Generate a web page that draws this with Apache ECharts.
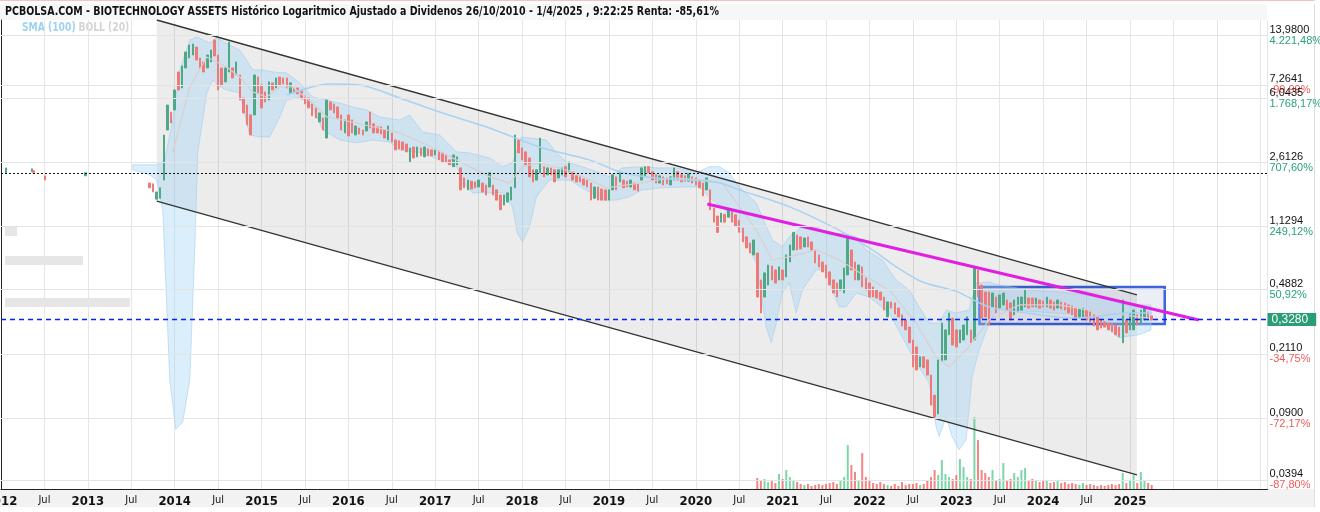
<!DOCTYPE html>
<html>
<head>
<meta charset="utf-8" />
<title>PCBOLSA - BIOTECHNOLOGY ASSETS</title>
<script src="https://cdn.jsdelivr.net/npm/echarts@6/dist/echarts.min.js"></script>
<style>
  html, body { margin: 0; padding: 0; background: #fff; }
  #main { width: 1320px; height: 512px; }
</style>
</head>
<body>
<div id="main"></div>
<script>
// x values are months counted from January 2012
var narrow = "'Liberation Sans Narrow', 'Arial Narrow', 'DejaVu Sans Condensed', sans-serif";

// a few isolated quotes in 2012
var earlyMonths = [0.7, 4.3, 4.5, 6.1, 11.7];
var earlyOpen = [2.28, 2.31, 2.34, 2.19, 2.19];
var earlyClose = [2.43, 2.40, 2.28, 2.07, 2.28];

// regular candles, one every half month starting at month 20.5 (mid Sep 2013)
var firstMonth = 20.5;
var opens = [
  1.99, 1.97, 1.61, 1.63, 2.07, 4.00, 5.07, 5.21, 8.59, 6.96,
  9.06, 10.33, 10.74, 11.93, 10.33, 9.80, 9.06, 9.80, 13.09, 10.74,
  9.06, 7.54, 8.59, 9.06, 8.26, 8.26, 6.10, 5.56, 4.88, 4.88,
  8.04, 7.24, 6.61, 5.94, 7.44, 6.96, 8.04, 7.94, 7.94, 6.52,
  6.96, 6.96, 6.69, 6.27, 6.10, 5.64, 5.35, 4.45, 4.69, 3.60,
  5.79, 5.64, 5.42, 4.88, 3.85, 4.88, 4.57, 3.75, 4.11, 4.00,
  3.95, 5.07, 4.34, 4.17, 4.17, 4.00, 3.51, 3.85, 3.51, 3.47,
  3.42, 3.33, 2.63, 3.20, 2.81, 3.16, 2.81, 3.12, 3.08, 2.88,
  3.04, 2.96, 2.88, 2.70, 2.47, 2.53, 2.43, 2.13, 1.82, 2.04,
  2.02, 1.89, 1.99, 1.94, 1.89, 1.94, 1.82, 1.70, 1.49, 1.55,
  1.59, 1.87, 3.51, 3.16, 3.00, 2.77, 2.37, 2.07, 2.28, 2.47,
  2.22, 2.43, 2.37, 2.13, 2.22, 2.47, 2.31, 2.31, 2.19, 2.16,
  2.10, 2.07, 1.99, 1.63, 1.89, 1.84, 1.82, 1.59, 1.82, 2.16,
  2.02, 2.07, 2.04, 1.89, 1.99, 1.97, 2.07, 2.16, 2.47, 2.31,
  2.22, 1.99, 2.16, 2.13, 1.94, 2.07, 2.31, 2.22, 2.19, 2.04,
  2.16, 2.13, 2.07, 1.99, 1.82, 1.82, 1.43, 1.29, 1.19, 1.32,
  1.27, 1.40, 1.31, 1.22, 1.10, 0.98, 0.904, 0.773, 0.793, 0.556,
  0.444, 0.520, 0.668, 0.634, 0.556, 0.634, 0.579, 0.704, 0.825, 1.005,
  0.98, 0.858, 0.98, 0.917, 0.825, 0.773, 0.704, 0.677, 0.618, 0.556,
  0.534, 0.487, 0.468, 0.594, 0.825, 0.704, 0.556, 0.660, 0.571, 0.534,
  0.507, 0.487, 0.474, 0.444, 0.342, 0.416, 0.411, 0.384, 0.351, 0.328,
  0.299, 0.252, 0.230, 0.177, 0.202, 0.194, 0.159, 0.122, 0.0953, 0.190,
  0.194, 0.270, 0.336, 0.288, 0.243, 0.252, 0.270, 0.288, 0.252, 0.634,
  0.520, 0.474, 0.474, 0.390, 0.444, 0.384, 0.400, 0.427, 0.411, 0.351,
  0.365, 0.374, 0.390, 0.438, 0.438, 0.390, 0.427, 0.422, 0.390, 0.427,
  0.416, 0.384, 0.416, 0.411, 0.400, 0.395, 0.384, 0.336, 0.342, 0.374,
  0.365, 0.351, 0.342, 0.328, 0.320, 0.315, 0.315, 0.307, 0.299, 0.243,
  0.328, 0.288, 0.288, 0.351, 0.315, 0.328, 0.365, 0.346
];
var closes = [
  1.87, 1.77, 1.77, 1.87, 3.75, 5.56, 4.39, 6.78, 6.78, 9.30,
  11.17, 12.25, 12.41, 10.06, 9.06, 8.59, 10.74, 11.47, 10.60, 6.78,
  7.24, 9.06, 12.74, 7.94, 9.80, 5.94, 5.01, 4.28, 3.75, 8.26,
  6.52, 5.35, 5.79, 7.54, 6.78, 7.94, 7.24, 7.34, 6.96, 7.44,
  6.52, 6.44, 6.02, 5.64, 5.35, 4.82, 4.69, 5.01, 4.00, 5.94,
  5.21, 5.01, 4.69, 4.00, 4.57, 3.70, 3.85, 4.22, 3.80, 3.75,
  4.45, 4.11, 3.85, 3.85, 3.80, 3.60, 4.22, 3.42, 3.08, 3.12,
  3.08, 3.00, 3.16, 2.77, 3.20, 2.85, 3.20, 2.85, 2.85, 3.08,
  2.70, 2.63, 2.60, 2.53, 2.88, 2.81, 1.82, 1.87, 2.07, 1.84,
  1.87, 2.07, 1.77, 1.70, 2.28, 1.70, 1.59, 1.40, 1.70, 1.75,
  1.89, 3.75, 2.96, 2.70, 2.53, 2.16, 2.02, 2.37, 3.60, 2.16,
  2.43, 2.22, 2.02, 2.37, 2.43, 2.16, 2.63, 2.07, 2.02, 2.02,
  1.94, 1.89, 1.59, 1.89, 1.59, 1.59, 1.59, 1.82, 2.22, 1.82,
  2.31, 1.87, 1.89, 2.07, 1.82, 1.79, 2.43, 2.47, 2.28, 2.07,
  1.99, 2.19, 1.94, 1.97, 2.16, 2.43, 2.07, 2.02, 2.04, 2.25,
  1.99, 1.94, 1.87, 1.68, 2.13, 1.40, 1.19, 1.04, 1.34, 1.19,
  1.40, 1.19, 1.13, 1.04, 0.917, 0.847, 0.793, 0.941, 0.444, 0.360,
  0.610, 0.677, 0.556, 0.534, 0.660, 0.556, 0.773, 0.881, 1.04, 0.825,
  0.836, 0.966, 0.858, 0.825, 0.695, 0.660, 0.618, 0.571, 0.520, 0.468,
  0.444, 0.556, 0.651, 0.98, 0.634, 0.556, 0.677, 0.507, 0.487, 0.444,
  0.444, 0.438, 0.427, 0.374, 0.416, 0.384, 0.355, 0.342, 0.303, 0.288,
  0.243, 0.177, 0.170, 0.202, 0.175, 0.159, 0.107, 0.0916, 0.194, 0.315,
  0.288, 0.360, 0.236, 0.230, 0.288, 0.307, 0.342, 0.243, 0.660, 0.444,
  0.336, 0.342, 0.307, 0.468, 0.360, 0.456, 0.468, 0.374, 0.328, 0.427,
  0.444, 0.444, 0.487, 0.384, 0.390, 0.438, 0.384, 0.390, 0.444, 0.384,
  0.374, 0.427, 0.379, 0.374, 0.360, 0.351, 0.328, 0.379, 0.384, 0.328,
  0.320, 0.303, 0.288, 0.295, 0.299, 0.288, 0.281, 0.270, 0.263, 0.427,
  0.277, 0.360, 0.374, 0.307, 0.374, 0.384, 0.328, 0.328
];

// volume (thousands), starting at candle 168
var volStart = 168;
var volumes = [
  11, 8, 10, 7, 9, 6, 15, 10, 19, 12, 9, 7, 5, 4, 5, 3, 4, 5, 4, 5,
  6, 7, 5, 8, 12, 44, 24, 17, 8, 36, 12, 8, 6, 5, 7, 5, 4, 3, 5, 3,
  7, 4, 5, 5, 6, 4, 5, 8, 12, 19, 14, 29, 15, 12, 10, 14, 30, 22, 12, 10,
  72, 49, 19, 16, 12, 19, 8, 10, 26, 8, 10, 16, 12, 19, 21, 8, 10, 9, 7, 9,
  8, 6, 7, 8, 6, 7, 5, 6, 5, 4, 6, 4, 5, 4, 3, 4, 3, 4, 5, 4,
  5, 16, 6, 8, 14, 6, 17, 9, 6, 4
];

// SMA(100)
var smaMonths = [39.5, 45.4, 49.6, 55.1, 60.6, 67.5, 74.4, 81.3, 85.9, 90.6, 95.1, 99.3, 102.0,
  108.9, 115.8, 120.4, 123.7, 127.3, 132.0, 136.5, 141.6, 148.5, 151.7, 155.4, 159.0];
var smaValues = [6.35, 7.34, 7.24, 6.10, 5.07, 4.11, 3.20, 2.70, 2.28, 2.13, 2.07, 1.99, 1.82,
  1.46, 1.07, 0.825, 0.660, 0.541, 0.478, 0.390, 0.360, 0.336, 0.346, 0.360, 0.360];

// Bollinger (20) bands
var bollUpper = [[18.21, 2.53], [21.52, 2.53], [22.63, 2.70], [23.73, 4.57], [24.70, 8.82], [26.08, 13.09],
  [27.05, 13.62], [28.84, 12.57], [29.81, 13.45], [31.60, 12.25], [32.98, 11.47], [33.95, 10.06],
  [34.78, 8.82], [36.16, 8.82], [37.54, 8.59], [39.47, 8.48], [41.27, 7.44], [43.06, 6.18],
  [44.99, 5.94], [46.79, 5.71], [48.58, 5.42], [50.52, 5.21], [52.31, 4.75], [55.07, 4.57],
  [56.46, 4.88], [58.25, 3.90], [60.60, 3.75], [62.94, 3.00], [64.74, 2.96], [67.50, 2.77],
  [69.29, 2.47], [70.67, 2.60], [71.92, 3.65], [73.02, 3.60], [75.37, 3.51], [76.75, 2.96],
  [78.13, 2.63], [80.34, 2.47], [82.69, 2.28], [84.07, 2.16], [85.86, 2.43], [88.62, 2.47],
  [90.56, 2.43], [93.32, 2.43], [96.08, 2.28], [97.87, 2.47], [99.25, 2.47], [100.63, 2.28],
  [102.01, 1.89], [104.36, 1.53], [106.57, 0.941], [107.95, 0.858], [108.92, 0.98], [110.71, 1.12],
  [112.65, 1.12], [114.44, 1.005], [116.24, 1.03], [118.17, 0.98], [119.55, 0.825], [121.76, 0.723],
  [123.70, 0.556], [125.49, 0.487], [126.87, 0.390], [128.25, 0.315], [129.63, 0.315], [130.60, 0.374],
  [131.98, 0.360], [133.77, 0.374], [134.74, 0.534], [136.53, 0.541], [137.91, 0.520], [142.06, 0.487],
  [146.20, 0.474], [150.34, 0.456], [153.10, 0.427], [155.86, 0.400], [158.90, 0.400]];
var bollLower = [[18.21, 2.37], [20.56, 2.22], [21.52, 2.07], [22.35, 1.40], [23.32, 0.149], [24.15, 0.0779],
  [25.11, 0.0857], [26.08, 0.149], [26.77, 0.825], [27.18, 2.96], [27.87, 4.57], [28.42, 6.52],
  [29.26, 7.73], [30.22, 7.05], [31.19, 6.78], [32.98, 6.52], [33.95, 4.39], [34.36, 3.75],
  [35.74, 3.65], [37.12, 3.65], [38.51, 4.75], [39.47, 5.94], [41.27, 6.18], [43.06, 5.42],
  [44.44, 4.00], [46.79, 3.51], [49.14, 3.38], [51.35, 3.51], [53.69, 3.42], [55.07, 3.08],
  [58.25, 2.96], [62.94, 2.47], [64.32, 1.89], [65.15, 1.75], [69.29, 1.75], [70.67, 1.45],
  [71.36, 1.03], [72.06, 0.917], [73.02, 1.12], [73.99, 1.66], [75.78, 2.07], [78.54, 2.07],
  [81.31, 1.77], [83.10, 1.59], [85.03, 1.59], [86.83, 1.66], [88.62, 1.82], [91.38, 1.87],
  [94.14, 1.89], [96.49, 1.89], [98.29, 1.59], [99.67, 1.45], [102.43, 1.03], [104.36, 0.695],
  [105.74, 0.299], [106.43, 0.243], [107.12, 0.315], [107.95, 0.468], [108.92, 0.534], [109.88, 0.360],
  [110.71, 0.487], [112.65, 0.634], [114.03, 0.634], [114.86, 0.487], [115.82, 0.390], [116.79, 0.390],
  [118.17, 0.468], [119.97, 0.444], [122.73, 0.360], [124.52, 0.263], [126.45, 0.186], [128.25, 0.144],
  [129.21, 0.0805], [129.63, 0.0708], [130.60, 0.0916], [131.42, 0.0708], [132.39, 0.0595], [133.36, 0.0679],
  [134.19, 0.156], [135.15, 0.221], [136.53, 0.315], [137.91, 0.390], [139.30, 0.374], [143.44, 0.365],
  [148.96, 0.351], [151.72, 0.328], [154.48, 0.260], [157.24, 0.270], [158.90, 0.288]];
var bollMiddle = [[23.73, 2.96], [26.08, 7.05], [28.42, 10.47], [31.19, 9.18], [32.98, 8.04], [34.78, 6.61],
  [36.71, 6.18], [38.51, 7.05], [40.30, 7.05], [43.06, 5.71], [44.99, 4.75], [49.14, 4.39],
  [55.07, 3.85], [58.25, 3.38], [62.94, 2.70], [67.50, 2.16], [70.26, 1.99], [72.06, 2.47],
  [74.40, 2.60], [78.96, 2.31], [83.65, 1.87], [88.21, 1.99], [92.77, 2.13], [97.46, 2.07],
  [99.67, 1.99], [104.36, 1.07], [106.57, 0.723], [108.92, 0.753], [112.65, 0.825], [115.82, 0.723],
  [119.55, 0.579], [122.73, 0.487], [126.45, 0.315], [129.21, 0.202], [131.01, 0.177], [133.36, 0.221],
  [136.53, 0.328], [140.67, 0.400], [146.20, 0.400], [151.72, 0.365], [158.62, 0.336]];

// drawings
var channelTop = [[21.52, 17.03], [156.96, 0.456]];
var channelBottom = [[21.52, 1.57], [156.96, 0.0427]];
var trendLine = [[97.6, 1.51], [165.5, 0.328]];
var rangeBox = [[135.2, 0.507], [160.8, 0.311]];
var refLevel = 2.27;
var lastPrice = 0.328;

// right axis
var axisLevels = [13.98, 7.2641, 6.0435, 2.6126, 1.1294, 0.4882, 0.2110, 0.0900, 0.0394];
var axisPct = ['4.221,48%', '-99,99%', '1.768,17%', '707,60%', '249,12%', '50,92%', '-34,75%', '-72,17%', '-87,80%'];

var UP = '#4fa886', DOWN = '#ef7a78';

var candleData = [];
for (var k = 0; k < earlyMonths.length; k++) {
  candleData.push([earlyMonths[k], earlyOpen[k], earlyClose[k],
    Math.min(earlyOpen[k], earlyClose[k]), Math.max(earlyOpen[k], earlyClose[k])]);
}
for (var i = 0; i < opens.length; i++) {
  candleData.push([firstMonth + i * 0.5, opens[i], closes[i],
    Math.min(opens[i], closes[i]), Math.max(opens[i], closes[i])]);
}
var volData = volumes.map(function (v, j) {
  var idx = volStart + j;
  var up = closes[idx] >= opens[idx];
  return { value: [firstMonth + idx * 0.5, v], itemStyle: { color: up ? 'rgba(80,200,140,0.75)' : 'rgba(240,90,90,0.75)' } };
});

function fmtNum(v) { return v.toFixed(4).replace('.', ','); }

function polySeries(points, style) {
  return {
    type: 'custom', silent: true, clip: true,
    data: [points[0]],
    encode: { x: 0, y: 1 },
    renderItem: function (params, api) {
      return { type: 'polygon', shape: { points: points.map(function (p) { return api.coord(p); }) }, style: style };
    }
  };
}

var gridLines = axisLevels.map(function (v, n) {
  var red = axisPct[n].charAt(0) === '-';
  return {
    yAxis: v,
    lineStyle: { color: '#e4e4e4', width: 1, type: 'solid' },
    label: { formatter: '{p|' + fmtNum(v) + '}\n{' + (red ? 'r' : 'g') + '|' + axisPct[n] + '}' }
  };
});

var chart = echarts.init(document.getElementById('main'));
chart.setOption({
  animation: false,
  backgroundColor: '#fff',
  grid: { left: 1, right: 52.5, top: 20, bottom: 23, outerBoundsMode: 'none', containLabel: false },
  xAxis: {
    type: 'value', min: 0, max: 175, interval: 6,
    axisLine: { lineStyle: { color: '#222' } },
    axisTick: { show: false },
    splitLine: { show: true, lineStyle: { color: '#e6e6e6' } },
    axisLabel: {
      margin: 6, showMaxLabel: false, showMinLabel: true, hideOverlap: false,
      formatter: function (v) {
        if (v > 156) return '';
        return v % 12 === 0 ? '{y|' + (2012 + v / 12) + '}' : '{j|Jul}';
      },
      rich: {
        y: { fontFamily: narrow, fontWeight: 'bold', fontSize: 13, color: '#111' },
        j: { fontFamily: narrow, fontSize: 11, color: '#111' }
      }
    }
  },
  yAxis: [
    {
      type: 'log', position: 'right', min: 0.03546, max: 17.03,
      axisLine: { show: true, lineStyle: { color: '#222' } },
      axisTick: { show: false }, axisLabel: { show: false }, splitLine: { show: false }
    },
    { type: 'value', min: 0, max: 470, show: false }
  ],
  graphic: [
    { type: 'rect', z: -10, silent: true, shape: { x: 0, y: 4, width: 1267, height: 16 }, style: { fill: '#f7f7f7' } },
    { type: 'rect', z: -10, silent: true, shape: { x: 0, y: 489, width: 1315, height: 18 }, style: { fill: '#f2f2f2' } },
    { type: 'rect', z: -10, silent: true, shape: { x: 1314, y: 4, width: 1, height: 503 }, style: { fill: '#dddddd' } },
    { type: 'rect', z: -10, silent: true, shape: { x: 0, y: 0, width: 1315, height: 1 }, style: { fill: '#f0c4c4' } },
    { type: 'rect', silent: true, shape: { x: 5, y: 227, width: 12, height: 9 }, style: { fill: '#e6e6e6' } },
    { type: 'rect', silent: true, shape: { x: 5, y: 256, width: 78, height: 9 }, style: { fill: '#e6e6e6' } },
    { type: 'rect', silent: true, shape: { x: 5, y: 298, width: 125, height: 9 }, style: { fill: '#e6e6e6' } },
    {
      type: 'text', x: 5, y: 5, scaleX: 0.812, silent: true,
      style: {
        text: 'PCBOLSA.COM - BIOTECHNOLOGY ASSETS Histórico Logaritmico Ajustado a Dividenos 26/10/2010 - 1/4/2025 , 9:22:25 Renta: -85,61%',
        font: 'bold 13px ' + narrow, fill: '#111'
      }
    },
    {
      type: 'text', x: 22, y: 22, scaleX: 0.85, silent: true,
      style: {
        text: '{a|SMA (100)} {b|BOLL (20)}',
        rich: {
          a: { fontFamily: narrow, fontWeight: 'bold', fontSize: 12, fill: '#9fd0f4' },
          b: { fontFamily: narrow, fontWeight: 'bold', fontSize: 12, fill: '#d4d4d4' }
        }
      }
    }
  ],
  series: [
    polySeries(channelTop.concat([channelBottom[1], channelBottom[0]]), { fill: 'rgba(0,0,0,0.075)' }),
    polySeries(bollUpper.concat(bollLower.slice().reverse()), { fill: 'rgba(160,210,245,0.38)', stroke: 'rgba(150,200,240,0.5)', lineWidth: 1 }),
    {
      type: 'line', data: bollMiddle, showSymbol: false, silent: true,
      lineStyle: { color: '#d9cfcf', width: 1.2 }
    },
    {
      type: 'line', data: smaMonths.map(function (m, n) { return [m, smaValues[n]]; }),
      showSymbol: false, silent: true, smooth: 0.3,
      lineStyle: { color: '#a6d2f3', width: 1.5 },
      markLine: {
        silent: true, symbol: ['none', 'none'], animation: false,
        label: {
          show: true, position: 'end', distance: 2, lineHeight: 11,
          rich: {
            p: { fontFamily: 'Liberation Sans, Arial, sans-serif', fontSize: 11, color: '#111', lineHeight: 11 },
            g: { fontFamily: 'Liberation Sans, Arial, sans-serif', fontSize: 11, color: '#2aa37a', lineHeight: 11 },
            r: { fontFamily: 'Liberation Sans, Arial, sans-serif', fontSize: 11, color: '#f05a5a', lineHeight: 11 }
          }
        },
        data: gridLines.concat([
          { yAxis: refLevel, lineStyle: { color: '#111', width: 1, type: [2, 2] }, label: { show: false } },
          {
            yAxis: lastPrice, lineStyle: { color: '#0022ff', width: 1.3, type: [5, 4], opacity: 1 },
            label: {
              formatter: fmtNum(lastPrice), color: '#fff', backgroundColor: '#2a9d74',
              fontFamily: 'Liberation Sans, Arial, sans-serif', fontSize: 12, padding: [1, 8, 1, 4], distance: 0
            }
          }
        ])
      }
    },
    { type: 'line', data: channelTop, showSymbol: false, silent: true, lineStyle: { color: '#333', width: 1.3 } },
    { type: 'line', data: channelBottom, showSymbol: false, silent: true, lineStyle: { color: '#333', width: 1.3 } },
    { type: 'bar', yAxisIndex: 1, data: volData, barWidth: 2, silent: true },
    {
      type: 'candlestick', data: candleData, encode: { x: 0, y: [1, 2, 3, 4] }, barWidth: 2, silent: true,
      itemStyle: { color: UP, color0: DOWN, borderColor: UP, borderColor0: DOWN, borderWidth: 1 }
    },
    {
      type: 'line', data: trendLine, showSymbol: false, silent: true,
      lineStyle: { color: '#e11fe3', width: 3 },
      markArea: {
        silent: true,
        itemStyle: { color: 'rgba(185,195,225,0.28)', borderColor: '#3d63dd', borderWidth: 2.5 },
        data: [[{ coord: rangeBox[0] }, { coord: rangeBox[1] }]]
      }
    }
  ]
});
</script>
</body>
</html>
